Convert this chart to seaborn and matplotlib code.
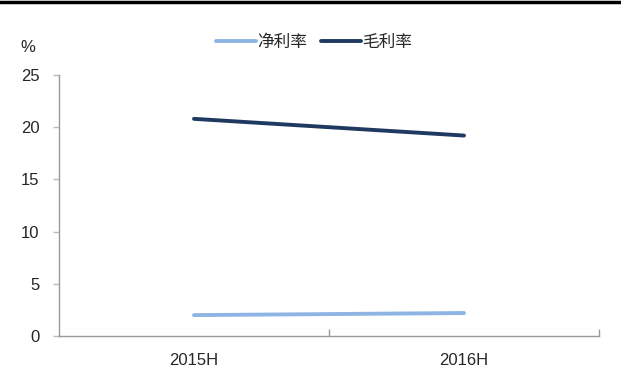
import matplotlib
matplotlib.use('Agg')
import matplotlib.pyplot as plt
import seaborn as sns
import pandas as pd
from matplotlib.lines import Line2D

periods = ['2015H', '2016H']
net_margin = [2.0, 2.2]
gross_margin = [20.8, 19.2]
series_names = ['净利率', '毛利率']
colors = {'净利率': '#8DB4E2', '毛利率': '#1F3A60'}

df = pd.DataFrame({
    'period': periods * 2,
    'value': net_margin + gross_margin,
    'series': [series_names[0]] * 2 + [series_names[1]] * 2,
})

sns.set_style('white')
plt.rcParams['font.family'] = ['Liberation Sans', 'Noto Sans CJK SC', 'DejaVu Sans']

fig = plt.figure(figsize=(6.21, 3.83), dpi=100)
ax = fig.add_axes([59 / 621, 47 / 383, 540 / 621, 261 / 383])

x_map = {p: i for i, p in enumerate(periods)}
df['x'] = df['period'].map(x_map)
sns.lineplot(data=df, x='x', y='value', hue='series', palette=colors, ax=ax,
             linewidth=2.8, legend=False)

ax.set_xlim(-0.5, len(periods) - 0.5)
ax.set_ylim(0, 25)
ax.set_yticks(range(0, 26, 5))
ax.set_xticks(range(len(periods)))
ax.set_xticklabels(periods)
ax.set_xticks([0.5, 1.5], minor=True)
ax.tick_params(axis='x', which='major', bottom=False, labelsize=12, pad=9)
ax.tick_params(axis='x', which='minor', bottom=True, direction='in', length=5,
               width=1, color='#999999')
ax.tick_params(axis='y', left=True, direction='out', length=4, width=1,
               color='#bbbbbb', labelsize=12, pad=10)
ax.set_xlabel('')
ax.set_ylabel('')

for s in ['top', 'right']:
    ax.spines[s].set_visible(False)
for s in ['left', 'bottom']:
    ax.spines[s].set_color('#999999')
    ax.spines[s].set_linewidth(1)

fig.text(20 / 621, 1 - 48 / 383, '%', fontsize=12, va='center', ha='left')

handles = [Line2D([0], [0], color=colors[n], linewidth=2.8) for n in series_names]
fig.legend(handles, series_names, loc='center', bbox_to_anchor=(314 / 621, 1 - 42 / 383),
           ncol=2, frameon=False, handlelength=2.4, handletextpad=0.1,
           columnspacing=0.8, prop={'family': ['Noto Sans CJK SC'], 'size': 12})

fig.add_artist(Line2D([0, 1], [1 - 1.5 / 383, 1 - 1.5 / 383], color='black',
                      linewidth=2.5, transform=fig.transFigure))

fig.savefig('out.png', dpi=100)
